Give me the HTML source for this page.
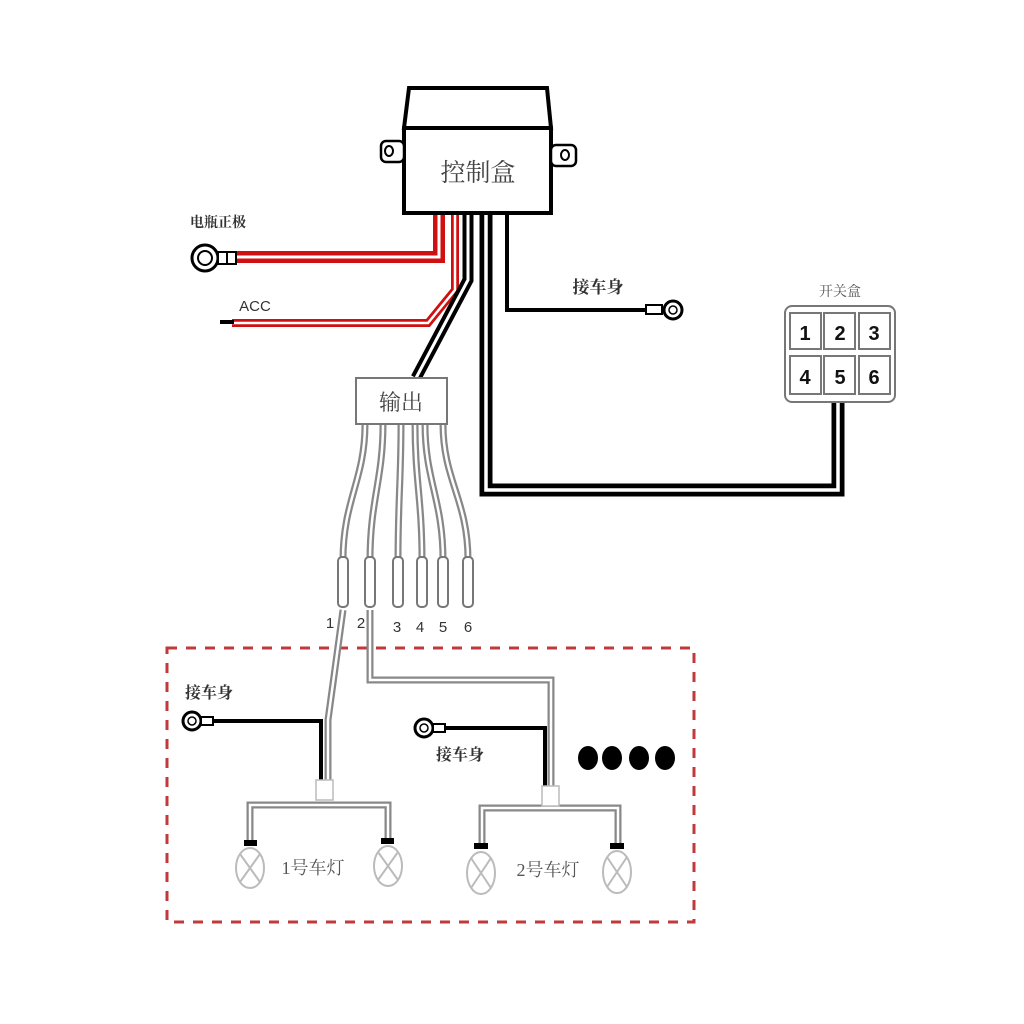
<!DOCTYPE html>
<html><head><meta charset="utf-8"><style>
html,body{margin:0;padding:0;background:#fff;}
svg{display:block;}
text{font-family:"Liberation Serif","Noto Serif CJK SC","Noto Sans CJK SC",serif;}
text.s{font-family:"Liberation Sans","Noto Sans CJK SC",sans-serif;}
</style></head><body>
<svg width="1024" height="1024" viewBox="0 0 1024 1024" xmlns="http://www.w3.org/2000/svg">
<rect width="1024" height="1024" fill="#fff"/>
<rect x="167" y="648" width="527" height="274" fill="none" stroke="#c0393b" stroke-width="3" stroke-dasharray="10,9"/>

<g fill="none" stroke-linejoin="miter">
<path d="M439,213 V257 H236" stroke="#d01010" stroke-width="12"/>
<path d="M439,213 V257 H236" stroke="#fff" stroke-width="3"/>
<path d="M455,213 V290 L428,323 H232" stroke="#d01010" stroke-width="8"/>
<path d="M455,213 V290 L428,323 H232" stroke="#fff" stroke-width="2.5"/>
<path d="M468,213 V280 L416,378" stroke="#000" stroke-width="11"/>
<path d="M468,213 V280 L416,378" stroke="#fff" stroke-width="3"/>
<path d="M486,213 V490 H838 V402" stroke="#000" stroke-width="13"/>
<path d="M486,213 V490 H838 V402" stroke="#fff" stroke-width="3.5"/>
<path d="M507,213 V310 H648" stroke="#000" stroke-width="4"/>
</g>
<line x1="220" y1="322" x2="234" y2="322" stroke="#000" stroke-width="4"/>

<circle cx="205" cy="258" r="13" fill="#fff" stroke="#000" stroke-width="3"/>
<circle cx="205" cy="258" r="7" fill="#fff" stroke="#000" stroke-width="2"/>
<rect x="218" y="252" width="18" height="12" fill="#fff" stroke="#000" stroke-width="2"/>
<line x1="227" y1="252" x2="227" y2="264" stroke="#000" stroke-width="2"/>
<rect x="646" y="305" width="16" height="9" fill="#fff" stroke="#000" stroke-width="2"/>
<circle cx="673" cy="310" r="9" fill="#fff" stroke="#000" stroke-width="3"/>
<circle cx="673" cy="310" r="4" fill="#fff" stroke="#000" stroke-width="1.5"/>

<path d="M409,88 H547 L551,128 H404 Z" fill="#fff" stroke="#000" stroke-width="4"/>
<rect x="404" y="128" width="147" height="85" fill="#fff" stroke="#000" stroke-width="4"/>
<rect x="381" y="141" width="23" height="21" rx="5" fill="#fff" stroke="#000" stroke-width="2.5"/>
<ellipse cx="389" cy="151" rx="4" ry="5" fill="#fff" stroke="#000" stroke-width="2"/>
<rect x="551" y="145" width="25" height="21" rx="5" fill="#fff" stroke="#000" stroke-width="2.5"/>
<ellipse cx="565" cy="155" rx="4" ry="5" fill="#fff" stroke="#000" stroke-width="2"/>
<text x="478" y="181" font-size="25" text-anchor="middle" fill="#444">控制盒</text>

<text x="218" y="227" font-size="14" text-anchor="middle" fill="#333" font-weight="bold">电瓶正极</text>
<text class="s" x="255" y="311" font-size="15" text-anchor="middle" fill="#333">ACC</text>
<text x="598" y="293" font-size="17" text-anchor="middle" fill="#333" font-weight="bold">接车身</text>

<text x="840" y="296" font-size="14" text-anchor="middle" fill="#555">开关盒</text>
<rect x="785" y="306" width="110" height="96" rx="7" fill="#fff" stroke="#777" stroke-width="2"/>
<g fill="#fff" stroke="#777" stroke-width="2">
<rect x="790" y="313" width="31" height="36"/><rect x="824" y="313" width="31" height="36"/><rect x="859" y="313" width="31" height="36"/>
<rect x="790" y="356" width="31" height="38"/><rect x="824" y="356" width="31" height="38"/><rect x="859" y="356" width="31" height="38"/>
</g>
<g font-size="20" text-anchor="middle" fill="#111" font-weight="bold">
<text class="s" x="805" y="340">1</text><text class="s" x="840" y="340">2</text><text class="s" x="874" y="340">3</text>
<text class="s" x="805" y="384">4</text><text class="s" x="840" y="384">5</text><text class="s" x="874" y="384">6</text>
</g>

<g fill="none">
<g stroke="#888" stroke-width="7">
<path d="M365,424 C365,480 343,500 343,560"/>
<path d="M383,424 C383,480 370,500 370,560"/>
<path d="M401,424 C401,480 398,500 398,560"/>
<path d="M415,424 C415,480 422,500 422,560"/>
<path d="M425,424 C425,480 443,500 443,560"/>
<path d="M443,424 C443,480 468,500 468,560"/>
<path d="M343,610 L328,720 V782"/>
<path d="M370,610 V680 H551 V787"/>
<path d="M250,840 V805 H388 V840"/>
<path d="M482,848 V808 H618 V848"/>
</g>
<g stroke="#fff" stroke-width="2.5">
<path d="M365,424 C365,480 343,500 343,560"/>
<path d="M383,424 C383,480 370,500 370,560"/>
<path d="M401,424 C401,480 398,500 398,560"/>
<path d="M415,424 C415,480 422,500 422,560"/>
<path d="M425,424 C425,480 443,500 443,560"/>
<path d="M443,424 C443,480 468,500 468,560"/>
<path d="M343,610 L328,720 V782"/>
<path d="M370,610 V680 H551 V787"/>
<path d="M250,840 V805 H388 V840"/>
<path d="M482,848 V808 H618 V848"/>
</g>
</g>
<g fill="#fff" stroke="#777" stroke-width="2">
<rect x="338" y="557" width="10" height="50" rx="4"/>
<rect x="365" y="557" width="10" height="50" rx="4"/>
<rect x="393" y="557" width="10" height="50" rx="4"/>
<rect x="417" y="557" width="10" height="50" rx="4"/>
<rect x="438" y="557" width="10" height="50" rx="4"/>
<rect x="463" y="557" width="10" height="50" rx="4"/>
</g>
<g font-size="15" text-anchor="middle" fill="#333">
<text class="s" x="330" y="628">1</text><text class="s" x="361" y="628">2</text><text class="s" x="397" y="632">3</text>
<text class="s" x="420" y="632">4</text><text class="s" x="443" y="632">5</text><text class="s" x="468" y="632">6</text>
</g>

<rect x="356" y="378" width="91" height="46" fill="#fff" stroke="#777" stroke-width="2"/>
<text x="401" y="410" font-size="22" text-anchor="middle" fill="#444">输出</text>

<path d="M210,721 H321 V782" fill="none" stroke="#000" stroke-width="4"/>
<circle cx="192" cy="721" r="9" fill="#fff" stroke="#000" stroke-width="3"/>
<circle cx="192" cy="721" r="4" fill="#fff" stroke="#000" stroke-width="1.5"/>
<rect x="201" y="717" width="12" height="8" fill="#fff" stroke="#000" stroke-width="2"/>
<text x="209" y="698" font-size="16" text-anchor="middle" fill="#333" font-weight="bold">接车身</text>
<rect x="316" y="780" width="17" height="20" fill="#fff" stroke="#bbb" stroke-width="1.5"/>

<path d="M444,728 H545 V787" fill="none" stroke="#000" stroke-width="4"/>
<circle cx="424" cy="728" r="9" fill="#fff" stroke="#000" stroke-width="3"/>
<circle cx="424" cy="728" r="4" fill="#fff" stroke="#000" stroke-width="1.5"/>
<rect x="433" y="724" width="12" height="8" fill="#fff" stroke="#000" stroke-width="2"/>
<text x="460" y="760" font-size="16" text-anchor="middle" fill="#333" font-weight="bold">接车身</text>
<rect x="542" y="786" width="17" height="20" fill="#fff" stroke="#bbb" stroke-width="1.5"/>

<g fill="#fff" stroke="#bbb" stroke-width="2">
<ellipse cx="250" cy="868" rx="14" ry="20"/>
<ellipse cx="388" cy="866" rx="14" ry="20"/>
<ellipse cx="481" cy="873" rx="14" ry="21"/>
<ellipse cx="617" cy="872" rx="14" ry="21"/>
<path d="M240,854 L260,882 M260,854 L240,882"/>
<path d="M378,852 L398,880 M398,852 L378,880"/>
<path d="M471,858 L491,888 M491,858 L471,888"/>
<path d="M607,857 L627,887 M627,857 L607,887"/>
</g>
<g fill="#000">
<rect x="244" y="840" width="13" height="6"/><rect x="381" y="838" width="13" height="6"/>
<rect x="474" y="843" width="14" height="6"/><rect x="610" y="843" width="14" height="6"/>
</g>
<text x="313" y="874" font-size="18" text-anchor="middle" fill="#555">1号车灯</text>
<text x="548" y="876" font-size="18" text-anchor="middle" fill="#555">2号车灯</text>

<g fill="#000">
<ellipse cx="588" cy="758" rx="10" ry="12"/><ellipse cx="612" cy="758" rx="10" ry="12"/>
<ellipse cx="639" cy="758" rx="10" ry="12"/><ellipse cx="665" cy="758" rx="10" ry="12"/>
</g>
</svg>
</body></html>
